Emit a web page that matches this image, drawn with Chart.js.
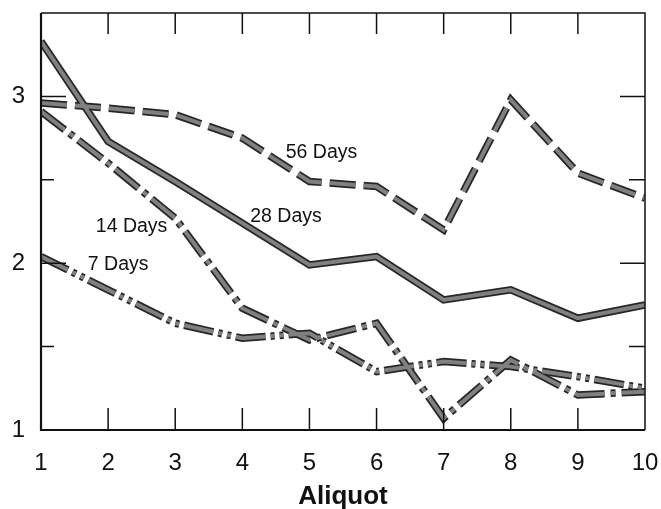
<!DOCTYPE html>
<html>
<head>
<meta charset="utf-8">
<script src="https://cdn.jsdelivr.net/npm/chart.js@4.4.1/dist/chart.umd.min.js"></script>
<style>
html,body{margin:0;padding:0;background:#fff;}
#wrap{width:661px;height:509px;}
</style>
</head>
<body>
<div id="wrap"><canvas id="c" width="661" height="509"></canvas></div>
<script>
const aliquots = [1,2,3,4,5,6,7,8,9,10];
const days56 = [2.96,2.93,2.89,2.75,2.49,2.46,2.20,2.98,2.54,2.39];
const days28 = [3.33,2.73,2.49,2.24,1.99,2.04,1.78,1.84,1.67,1.75];
const days14 = [2.91,2.60,2.27,1.73,1.54,1.64,1.07,1.42,1.21,1.23];
const days7  = [2.04,1.84,1.64,1.55,1.58,1.35,1.41,1.38,1.32,1.25];
const yLabelValues = [1,2,3];
const seriesLabels = ["56 Days","28 Days","14 Days","7 Days"];
const labelPos = [[5.18,2.66],[4.65,2.28],[2.35,2.22],[2.15,1.99]];

const dashes = {
  "56 Days":[26,8],
  "28 Days":[],
  "14 Days":[30,6,5,6],
  "7 Days":[30,5,4,5,4,5]
};
const seriesData = {"56 Days":days56,"28 Days":days28,"14 Days":days14,"7 Days":days7};

const datasets = [];
seriesLabels.forEach(name => {
  const pts = aliquots.map((x,i)=>({x:x,y:seriesData[name][i]}));
  datasets.push({label:name+" outline",data:pts,borderColor:'#262626',borderWidth:7.5,order:2,
    borderDash:dashes[name],borderCapStyle:'butt',borderJoinStyle:'miter',pointRadius:0,tension:0,fill:false});
  datasets.push({label:name,data:pts,borderColor:'#808080',borderWidth:4,order:1,
    borderDash:dashes[name],borderCapStyle:'butt',borderJoinStyle:'miter',pointRadius:0,tension:0,fill:false});
});

const FONT = '"Liberation Sans", Arial, sans-serif';

const framePlugin = {
  id:'frame',
  afterDraw(chart){
    const ctx = chart.ctx, a = chart.chartArea;
    const xs = chart.scales.x, ys = chart.scales.y;
    ctx.save();
    ctx.strokeStyle = '#111';
    ctx.lineWidth = 1.5;
    ctx.beginPath();
    ctx.moveTo(a.left,a.top); ctx.lineTo(a.right,a.top); ctx.lineTo(a.right,a.bottom);
    ctx.stroke();
    ctx.lineWidth = 2.2;
    ctx.beginPath();
    ctx.moveTo(a.left,a.top); ctx.lineTo(a.left,a.bottom); ctx.lineTo(a.right,a.bottom);
    ctx.stroke();
    ctx.lineWidth = 1.5;
    xs.ticks.forEach(t=>{
      if (t.value<=1 || t.value>=10) return;
      const px = xs.getPixelForValue(t.value);
      ctx.beginPath();
      ctx.moveTo(px,a.bottom); ctx.lineTo(px,a.bottom-22);
      ctx.moveTo(px,a.top); ctx.lineTo(px,a.top+21);
      ctx.stroke();
    });
    ys.ticks.forEach(t=>{
      if (t.value<=1 || t.value>=3.5) return;
      const py = ys.getPixelForValue(t.value);
      const major = Number.isInteger(t.value);
      ctx.beginPath();
      ctx.moveTo(a.left,py); ctx.lineTo(a.left+(major?25:13),py);
      ctx.moveTo(a.right,py); ctx.lineTo(a.right-(major?25:16),py);
      ctx.stroke();
    });
    ctx.fillStyle = '#111';
    ctx.font = '19.5px ' + FONT;
    ctx.textAlign = 'center';
    ctx.textBaseline = 'middle';
    seriesLabels.forEach((n,i)=>{
      ctx.fillText(n, xs.getPixelForValue(labelPos[i][0]), ys.getPixelForValue(labelPos[i][1]));
    });
    ctx.restore();
  }
};

new Chart(document.getElementById('c'),{
  type:'line',
  data:{datasets:datasets},
  options:{
    responsive:false,
    animation:false,
    layout:{padding:{top:13,right:16,left:0,bottom:0}},
    plugins:{legend:{display:false},tooltip:{enabled:false}},
    scales:{
      x:{type:'linear',min:1,max:10,
        afterFit(s){s.height=79;s.paddingLeft=0;s.paddingRight=0;},
        grid:{display:false,drawTicks:false},border:{display:false},
        ticks:{stepSize:1,padding:19,color:'#111',font:{family:FONT,size:24}},
        title:{display:true,text:'Aliquot',color:'#111',font:{family:FONT,size:26,weight:'bold'},padding:{top:0,bottom:-3}}
      },
      y:{type:'linear',min:1,max:3.5,
        afterFit(s){s.width=41;s.paddingTop=0;s.paddingBottom=0;},
        grid:{display:false,drawTicks:false},border:{display:false},
        ticks:{stepSize:0.5,padding:16,color:'#111',
          font:{family:FONT,size:24},
          callback:(v)=> yLabelValues.includes(v) ? String(v) : ''}
      }
    }
  },
  plugins:[framePlugin]
});
</script>
</body>
</html>
